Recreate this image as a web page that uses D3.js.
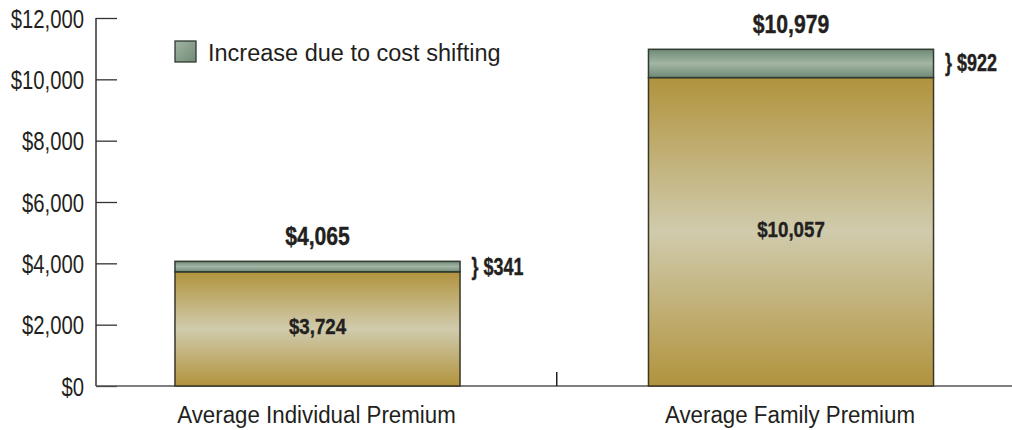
<!DOCTYPE html>
<html><head><meta charset="utf-8">
<script src="https://cdn.jsdelivr.net/npm/d3@7"></script>
<style>
body{margin:0;background:#fff;}
svg{display:block;}
text{font-family:"Liberation Sans",Arial,Helvetica,sans-serif;fill:#231f20;}
</style></head>
<body>
<svg id="chart" width="1012" height="430"></svg>
<script>
const categories = ["Average Individual Premium", "Average Family Premium"];
const baseValues = [3724, 10057];
const increaseValues = [341, 922];
const totalValues = [4065, 10979];
const yTicks = [0, 2000, 4000, 6000, 8000, 10000, 12000];
const legendLabel = "Increase due to cost shifting";

const svg = d3.select("#chart");
const W = 1012, H = 430;
const axisX = 96, yTop = 18, yBottom = 386;

const y = d3.scaleLinear().domain([0, 12000]).range([yBottom, yTop]);
const x = d3.scaleBand().domain(categories).range([80.75, 1027.75]).padding(0);
const barW = x.bandwidth() * 0.602;
const fmt = d => "$" + d3.format(",")(d);

// condense text horizontally (narrow typeface emulation)
function condense(sel, f) {
  sel.each(function() {
    const n = this.getComputedTextLength();
    d3.select(this).attr("textLength", n * f).attr("lengthAdjust", "spacingAndGlyphs");
  });
}

const defs = svg.append("defs");
const g1 = defs.append("linearGradient").attr("id","gold").attr("x1",0).attr("y1",0).attr("x2",0).attr("y2",1);
[[0,"#b1933d"],[0.5,"#d0cbad"],[1,"#b1933d"]].forEach(s=>g1.append("stop").attr("offset",s[0]).attr("stop-color",s[1]));
const g2 = defs.append("linearGradient").attr("id","green").attr("x1",0).attr("y1",0).attr("x2",0).attr("y2",1);
[[0,"#6f8a76"],[0.5,"#a3b5a4"],[1,"#6f8a76"]].forEach(s=>g2.append("stop").attr("offset",s[0]).attr("stop-color",s[1]));
const g3 = defs.append("linearGradient").attr("id","greenH").attr("x1",0).attr("y1",0).attr("x2",1).attr("y2",1);
[[0,"#a2b4a3"],[1,"#6f8a76"]].forEach(s=>g3.append("stop").attr("offset",s[0]).attr("stop-color",s[1]));

// y axis
const yAxis = d3.axisRight(y).tickValues(yTicks).tickSize(21).tickFormat("");
const ya = svg.append("g").attr("transform",`translate(${axisX},0)`).call(yAxis);
ya.select(".domain").remove();
ya.selectAll(".tick line").attr("stroke","#333").attr("stroke-width",1.3);
svg.append("line").attr("x1",axisX).attr("x2",axisX).attr("y1",y(12000)).attr("y2",yBottom)
  .attr("stroke","#333").attr("stroke-width",1.5);
svg.selectAll(".ylab").data(yTicks).join("text").attr("class","ylab")
  .attr("x",84).attr("y",d=>y(d)+9.5).attr("text-anchor","end")
  .attr("font-size",26)
  .text(fmt).call(condense, 0.78);

// x axis
svg.append("line").attr("x1",axisX).attr("x2",W).attr("y1",yBottom).attr("y2",yBottom)
  .attr("stroke","#555").attr("stroke-width",1.6);
const mid = x(categories[1]);
svg.append("line").attr("x1",mid+2.5).attr("x2",mid+2.5).attr("y1",yBottom-14).attr("y2",yBottom)
  .attr("stroke","#222").attr("stroke-width",1.5);
svg.selectAll(".xlab").data(categories).join("text").attr("class","xlab")
  .attr("x",d=>x(d)+x.bandwidth()/2 - 1).attr("y",423).attr("text-anchor","middle")
  .attr("font-size",23)
  .text(d=>d).call(condense, 0.97);

// bars
const cx = i => x(categories[i]) + x.bandwidth()/2;
svg.selectAll(".base").data(baseValues).join("rect").attr("class","base")
  .attr("x",(d,i)=>cx(i)-barW/2).attr("width",barW)
  .attr("y",d=>y(d)).attr("height",d=>y(0)-y(d))
  .attr("fill","url(#gold)").attr("stroke","#3a3628").attr("stroke-width",1.5);
svg.selectAll(".inc").data(increaseValues).join("rect").attr("class","inc")
  .attr("x",(d,i)=>cx(i)-barW/2).attr("width",barW)
  .attr("y",(d,i)=>y(baseValues[i]+d)).attr("height",(d,i)=>y(baseValues[i])-y(baseValues[i]+d))
  .attr("fill","url(#green)").attr("stroke","#2f3a30").attr("stroke-width",1.5);

// labels
svg.selectAll(".tot").data(totalValues).join("text").attr("class","tot")
  .attr("x",(d,i)=>cx(i)).attr("y",d=>y(d)-16.5).attr("text-anchor","middle")
  .attr("font-size",25.5).attr("font-weight","bold").attr("stroke","#231f20").attr("stroke-width",0.4)
  .text(fmt).call(condense, 0.83);
svg.selectAll(".baseLab").data(baseValues).join("text").attr("class","baseLab")
  .attr("x",(d,i)=>cx(i)).attr("y",d=>(y(d)+y(0))/2+5.5).attr("text-anchor","middle")
  .attr("font-size",22).attr("font-weight","bold").attr("stroke","#231f20").attr("stroke-width",0.4)
  .text(fmt).call(condense, 0.85);
svg.selectAll(".incLab").data(increaseValues).join("text").attr("class","incLab")
  .attr("x",(d,i)=>cx(i)+barW/2+11.5).attr("y",(d,i)=>(y(baseValues[i])+y(baseValues[i]+d))/2+8)
  .attr("font-size",23).attr("font-weight","bold").attr("stroke","#231f20").attr("stroke-width",0.4)
  .text(d=>"} "+fmt(d)).call(condense, 0.78);

// legend
svg.append("rect").attr("x",175).attr("y",41).attr("width",21).attr("height",21)
  .attr("fill","url(#greenH)").attr("stroke","#2f3a30").attr("stroke-width",1.3);
svg.append("text").attr("x",208).attr("y",61).attr("font-size",23.5)
  .text(legendLabel).call(condense, 1.0);
</script>
</body></html>
